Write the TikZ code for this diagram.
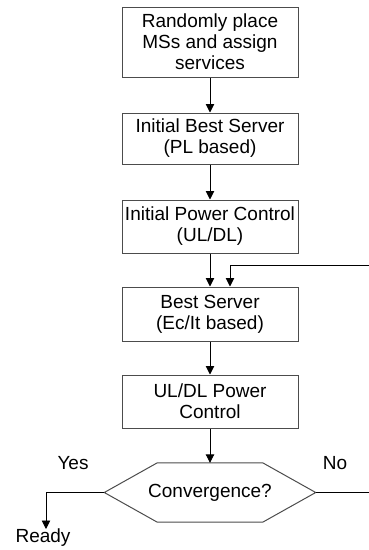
\documentclass[tikz,border=0pt]{standalone}
\usepackage{fontspec}
\setmainfont{Liberation Sans}
\usetikzlibrary{arrows.meta}

\begin{document}
\begin{tikzpicture}[x=1pt,y=-1pt,
  every node/.style={inner sep=0pt, font=\fontsize{19}{21}\selectfont},
  stepbox/.style={draw=black!70, line width=1pt, minimum width=176pt, align=center},
  flow/.style={draw=black, line width=0.9pt, -{Triangle[length=8.5pt,width=8.5pt]}},
  plain/.style={draw=black, line width=0.9pt},
  hexa/.style={draw=black!70, line width=1pt}
]
\useasboundingbox (0,0) rectangle (369,550);

% process steps
\node[stepbox, minimum height=70pt] (place) at (210,42) {Randomly place\\MSs and assign\\services};
\node[stepbox, minimum height=51pt] (ibs)   at (210,138.5) {Initial Best Server\\(PL based)};
\node[stepbox, minimum height=53pt] (ipc)   at (210,226.5) {Initial Power Control\\(UL/DL)};
\node[stepbox, minimum height=54pt] (bs)    at (210,314) {Best Server\\(Ec/It based)};
\node[stepbox, minimum height=53pt] (pc)    at (210,401.5) {UL/DL Power\\Control};

% decision: hexagon drawn around a plain text node
\node[minimum width=211pt, minimum height=59pt] (conv) at (210,492.5) {Convergence?};
\draw[hexa] (conv.west) -- ([xshift=53pt]conv.north west) -- ([xshift=-53pt]conv.north east)
  -- (conv.east) -- ([xshift=-53pt]conv.south east) -- ([xshift=53pt]conv.south west) -- cycle;

% labels
\node (yes) at (73,463.5) {Yes};
\node (no) at (335,463.5) {No};
\node[anchor=north] (ready) at (43,529) {Ready};

% loop ends at the right border
\coordinate (noEnd) at (369,492.5);
\coordinate (loopIn) at (369,265);

% connectors
\draw[flow] (place) -- (ibs);
\draw[flow] (ibs) -- (ipc);
\draw[flow] (ipc) -- (bs);
\draw[flow] (bs) -- (pc);
\draw[flow] (pc) -- (conv);
\draw[flow] (conv.west) -| ([xshift=3pt]ready.north);
\draw[plain] (conv.east) -- (noEnd);
\draw[flow] (loopIn) -| ([xshift=20pt]bs.north);
\end{tikzpicture}
\end{document}
